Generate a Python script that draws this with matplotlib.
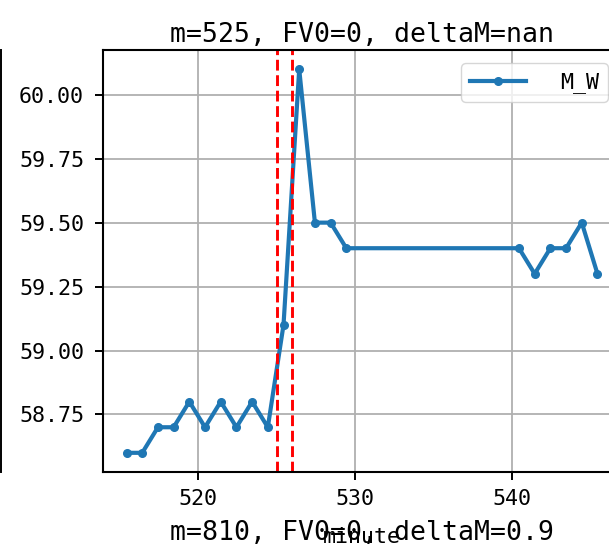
import matplotlib
matplotlib.use("Agg")
import matplotlib.pyplot as plt
from matplotlib.lines import Line2D

plt.rcParams['font.family'] = ['DejaVu Sans Mono']

# minute stamps and M_W readings
minutes = [515.43, 516.43, 517.43, 518.43, 519.43, 520.43, 521.43, 522.43,
           523.43, 524.43, 525.43, 526.43, 527.43, 528.43, 529.43,
           540.43, 541.43, 542.43, 543.43, 544.43, 545.43]
m_w = [58.6, 58.6, 58.7, 58.7, 58.8, 58.7, 58.8, 58.7,
       58.8, 58.7, 59.1, 60.1, 59.5, 59.5, 59.4,
       59.4, 59.3, 59.4, 59.4, 59.5, 59.3]
event_lines = [525, 526]
y_ticks = [58.75, 59.0, 59.25, 59.5, 59.75, 60.0]
x_ticks = [520, 530, 540]
title_text = "m=525, FV0=0, deltaM=nan"
next_title_text = "m=810, FV0=0, deltaM=0.9"
series_label = "M_W"
x_label = "minute"

W, H = 609, 551
fig = plt.figure(figsize=(W / 100, H / 100), dpi=100)

left_px, right_px, top_px, bottom_px = 103, 621, 50, 472
ax = fig.add_axes([left_px / W, (H - bottom_px) / H,
                   (right_px - left_px) / W, (bottom_px - top_px) / H])

ax.plot(minutes, m_w, color='#1f77b4', lw=3.0, marker='o', ms=5.5,
        label=series_label)
for xv in event_lines:
    ax.axvline(xv, color='red', ls='--', lw=2.1)

ax.grid(True, color='#b0b0b0', lw=1.3)
ax.set_axisbelow(True)
for s in ax.spines.values():
    s.set_linewidth(1.5)
ax.tick_params(labelsize=15.6, length=5.6, width=1.4)
ax.tick_params(axis='y', pad=8.0)
ax.tick_params(axis='x', pad=6.5)
ax.set_yticks(y_ticks)
ax.set_yticklabels([f"{v:.2f}" for v in y_ticks])
ax.set_xticks(x_ticks)

ax.set_title(title_text, fontsize=19.1, pad=6)
ax.set_xlabel(x_label, fontsize=15.6, labelpad=13)

ax.legend(loc='upper right', fontsize=15.6, handlelength=2.6,
          handletextpad=1.55, framealpha=0.8, borderaxespad=0.62)

# title of the panel below and the edge of the panel to the left
fig.text(361.8 / W, (H - 540) / H, next_title_text, fontsize=19.1,
         ha='center', va='baseline')
fig.add_artist(Line2D([0.6 / W, 0.6 / W], [(H - 50) / H, (H - 472) / H],
                      transform=fig.transFigure, color='black', lw=1.4))

fig.savefig("out.png", dpi=100)
